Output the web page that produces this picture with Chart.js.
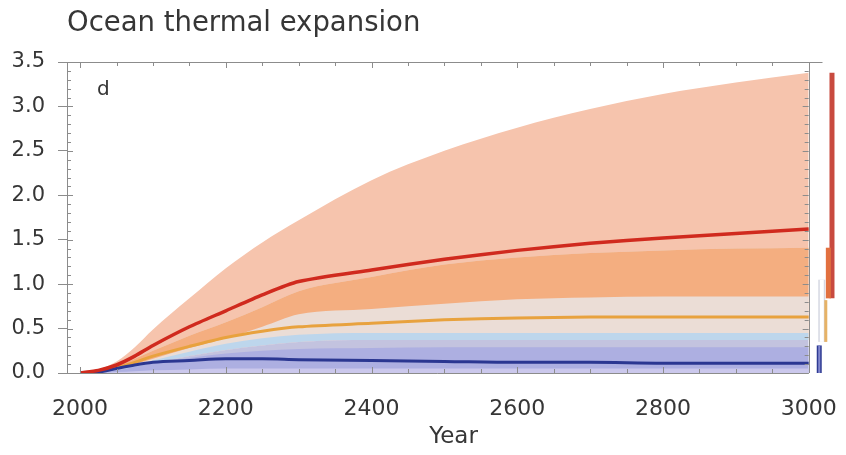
<!DOCTYPE html>
<html>
<head>
<meta charset="utf-8">
<script src="https://cdn.jsdelivr.net/npm/chart.js@4/dist/chart.umd.min.js"></script>
<style>
  html, body { margin: 0; padding: 0; background: #ffffff; }
  #wrap { width: 846px; height: 455px; }
</style>
</head>
<body>
<div id="wrap"><canvas id="c" width="846" height="455"></canvas></div>
<script>
// Ocean thermal expansion (m), model years 2000-3000
const years         = [2000, 2025, 2050, 2075, 2100, 2150, 2200, 2250, 2300, 2400, 2500, 2600, 2700, 2800, 2900, 3000];
const redMedian     = [0, 0.03, 0.09, 0.19, 0.31, 0.52, 0.70, 0.88, 1.03, 1.16, 1.28, 1.38, 1.46, 1.52, 1.57, 1.62];
const redHigh       = [0, 0.04, 0.13, 0.29, 0.49, 0.84, 1.18, 1.47, 1.72, 2.17, 2.50, 2.76, 2.97, 3.14, 3.27, 3.38];
const orangeHigh    = [0, 0.03, 0.08, 0.16, 0.25, 0.42, 0.57, 0.74, 0.92, 1.08, 1.22, 1.30, 1.35, 1.38, 1.40, 1.41];
const orangeLow     = [0, 0.02, 0.05, 0.10, 0.16, 0.28, 0.39, 0.52, 0.66, 0.72, 0.78, 0.83, 0.85, 0.86, 0.86, 0.86];
const yellowMedian  = [0, 0.02, 0.06, 0.12, 0.19, 0.30, 0.40, 0.47, 0.52, 0.56, 0.60, 0.62, 0.63, 0.63, 0.63, 0.63];
const lightBlueHigh = [0, 0.01, 0.04, 0.08, 0.14, 0.24, 0.33, 0.39, 0.43, 0.45, 0.45, 0.45, 0.45, 0.45, 0.45, 0.45];
const lightBlueLow  = [0, 0.01, 0.03, 0.06, 0.11, 0.19, 0.26, 0.31, 0.35, 0.37, 0.37, 0.37, 0.37, 0.37, 0.37, 0.37];
const blueHigh      = [0, 0.01, 0.03, 0.07, 0.11, 0.17, 0.22, 0.25, 0.27, 0.28, 0.29, 0.29, 0.29, 0.29, 0.29, 0.29];
const blueMedian    = [0, 0.01, 0.05, 0.09, 0.12, 0.14, 0.16, 0.16, 0.15, 0.14, 0.13, 0.12, 0.12, 0.11, 0.11, 0.11];
const blueLow       = [0, 0.00, 0.01, 0.02, 0.03, 0.04, 0.05, 0.05, 0.05, 0.05, 0.05, 0.05, 0.05, 0.05, 0.05, 0.05];

// Ranges reached by year 3000 (shown as bars right of the panel)
const rangeRed      = [0.84, 3.38];
const rangeOrange   = [0.84, 1.41];
const rangeGrey     = [0.35, 1.05];
const rangeYellow   = [0.35, 0.82];
const rangeBlue     = [0.00, 0.31];

const xTickValues = [2000, 2200, 2400, 2600, 2800, 3000];
const yTickValues = [0, 0.5, 1.0, 1.5, 2.0, 2.5, 3.0, 3.5];

const axisColor = '#8c8c8c';
const textColor = '#363636';
const font = 'DejaVu Sans';
const lastYear = years[years.length - 1];

const pts = arr => years.map((yr, i) => ({ x: yr, y: arr[i] }));

// median curves: light bezier smoothing that keeps the bend at 2300 visible
const curve = (label, arr, color, width, order, smooth) => ({
  label, data: pts(arr), borderColor: color, borderWidth: width, pointRadius: 0,
  fill: false, order, borderJoinStyle: 'round',
  cubicInterpolationMode: smooth ? 'monotone' : 'default', tension: smooth ? 0 : 0.25
});
const band = (label, arr, color, target, order) => ({
  label, data: pts(arr), borderWidth: 0, borderColor: 'rgba(0,0,0,0)', pointRadius: 0,
  backgroundColor: color, fill: target, order, cubicInterpolationMode: 'monotone'
});
// vertical range bar placed a few years past the last model year
const rangeBar = (label, range, offsetYears, color, width, order) => ({
  label, data: range.map(v => ({ x: lastYear + offsetYears, y: v })),
  borderColor: color, borderWidth: width, borderCapStyle: 'butt', pointRadius: 0,
  fill: false, order, clip: false
});

const datasets = [
  curve('Red median', redMedian, '#d02a1e', 3.5, 0, false),       // 0
  curve('Blue median', blueMedian, '#2b3791', 3, 1, true),        // 1
  curve('Yellow median', yellowMedian, '#e8a23e', 3, 2, false),   // 2
  band('Blue low', blueLow, '#cbc8ec', 'origin', 3),              // 3
  band('Blue range', blueHigh, '#adafe1', 'origin', 4),           // 4
  band('Lavender range', lightBlueLow, '#c3c3df', 'origin', 5),   // 5
  band('Light blue range', lightBlueHigh, '#bdd6ec', 5, 6),       // 6
  band('Orange low', orangeLow, 'rgba(0,0,0,0)', false, 20),      // 7
  band('Orange range', orangeHigh, '#f4ae80', 7, 7),              // 8
  band('Beige range', orangeHigh, '#ebddd6', 5, 8),               // 9
  band('Red range', redHigh, '#f6c4ad', 5, 9),                    // 10
  rangeBar('Grey bar edge', rangeGrey, 18, '#d6d8e2', 7, -1),
  rangeBar('Grey bar', rangeGrey, 18, '#ffffff', 4, -2),
  rangeBar('Yellow bar', rangeYellow, 23.5, '#e6b266', 3, -3),
  rangeBar('Red bar', rangeRed, 32, '#c84a3f', 5, -4),
  rangeBar('Orange bar', rangeOrange, 27, '#e2703f', 5, -5),
  rangeBar('Blue bar', rangeBlue, 14.5, '#2f3b93', 5, -6),
  rangeBar('Blue bar inner', rangeBlue, 14.5, '#8389cf', 2, -7)
];

// Panel frame, inward minor ticks and the panel letter
const framePlugin = {
  id: 'framePlugin',
  afterDatasetsDraw(chart) {
    const { ctx, chartArea: { top, bottom, left }, scales: { x, y } } = chart;
    const xEnd = x.getPixelForValue(lastYear);
    const frameRight = x.getPixelForValue(lastYear + 19);
    ctx.save();
    ctx.strokeStyle = axisColor;
    ctx.lineWidth = 1;
    const seg = (x1, y1, x2, y2) => { ctx.beginPath(); ctx.moveTo(x1, y1); ctx.lineTo(x2, y2); ctx.stroke(); };
    seg(left, top + 0.5, frameRight, top + 0.5);
    seg(left, bottom + 0.5, xEnd, bottom + 0.5);
    seg(Math.round(xEnd) + 0.5, top, Math.round(xEnd) + 0.5, bottom);
    for (let v = years[0]; v <= lastYear; v += 50) {
      const px = Math.round(x.getPixelForValue(v)) + 0.5;
      const len = v % 200 === 0 ? 6 : 4;
      seg(px, bottom, px, bottom - len);
      seg(px, top, px, top + len);
    }
    for (let k = 0; k <= 35; k++) {
      const py = Math.round(y.getPixelForValue(k / 10)) + 0.5;
      const len = k % 5 === 0 ? 6 : 4;
      seg(left, py, left + len, py);
      seg(xEnd - len, py, xEnd, py);
    }
    ctx.fillStyle = textColor;
    ctx.font = '20px "' + font + '"';
    ctx.textBaseline = 'alphabetic';
    ctx.textAlign = 'left';
    ctx.fillText('d', left + 30, top + 33);
    ctx.restore();
  }
};

// keep the plot box fixed: no extra room reserved for overhanging tick labels
const noOverhang = s => { s.paddingLeft = 0; s.paddingRight = 0; s.paddingTop = 0; s.paddingBottom = 0; };

new Chart(document.getElementById('c'), {
  type: 'line',
  data: { datasets },
  plugins: [framePlugin],
  options: {
    responsive: false,
    animation: false,
    events: [],
    layout: { padding: { left: 0, right: 6, top: 0, bottom: 0 } },
    plugins: {
      legend: { display: false },
      tooltip: { enabled: false },
      filler: { propagate: false },
      title: {
        display: true,
        text: 'Ocean thermal expansion',
        align: 'start',
        fullSize: false,
        color: textColor,
        font: { family: font, size: 27.5, weight: 'normal' },
        padding: { top: 7, bottom: 22 }
      }
    },
    scales: {
      x: {
        type: 'linear',
        min: 1982,
        max: 3043,
        afterBuildTicks: s => { s.ticks = xTickValues.map(v => ({ value: v })); },
        afterFit: s => { s.height = 82; noOverhang(s); },
        grid: { display: false },
        border: { display: false },
        ticks: {
          color: textColor,
          font: { family: font, size: 22 },
          padding: 15,
          maxRotation: 0,
          autoSkip: false,
          callback: v => String(v)
        },
        title: {
          display: true,
          text: 'Year',
          color: textColor,
          font: { family: font, size: 23 },
          padding: { top: 0, bottom: 4 }
        }
      },
      y: {
        type: 'linear',
        min: 0,
        max: 3.5,
        afterBuildTicks: s => { s.ticks = yTickValues.map(v => ({ value: v })); },
        afterFit: s => { s.width = 67; noOverhang(s); },
        grid: { drawOnChartArea: false, drawTicks: true, tickLength: 9, color: axisColor },
        border: { display: true, color: axisColor },
        ticks: {
          color: textColor,
          font: { family: font, size: 21 },
          padding: 13,
          callback: v => Number(v).toFixed(1)
        }
      }
    }
  }
});
</script>
</body>
</html>
